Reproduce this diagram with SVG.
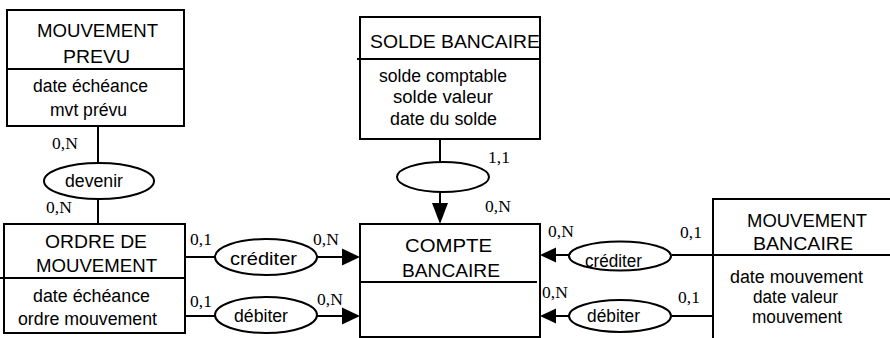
<svg xmlns="http://www.w3.org/2000/svg" width="890" height="338" viewBox="0 0 890 338">
<style>
.box{fill:#fff;stroke:#000;stroke-width:2}
.ln{fill:none;stroke:#000;stroke-width:2}
.el{fill:#fff;stroke:#000;stroke-width:2}
.t{font-family:"Liberation Sans",Arial,sans-serif;font-size:18px;fill:#000;text-anchor:middle}
.c{font-family:"Liberation Serif","Times New Roman",serif;font-size:17.5px;fill:#000}
.ah{fill:#000}
</style>
<rect width="890" height="338" fill="#fff"/>
<g id="connectors">
<line class="ln" x1="98" y1="126" x2="98" y2="164"/>
<line class="ln" x1="98" y1="198" x2="98" y2="224"/>
<line class="ln" x1="440" y1="139" x2="440" y2="162"/>
<line class="ln" x1="440" y1="192" x2="440" y2="206"/>
<polygon class="ah" points="440,224 432,203 448,203"/>
<line class="ln" x1="185" y1="257" x2="215" y2="257"/>
<line class="ln" x1="317" y1="257" x2="345" y2="257"/>
<polygon class="ah" points="360,257 342,248.5 342,265.5"/>
<line class="ln" x1="185" y1="316" x2="215" y2="316"/>
<line class="ln" x1="317" y1="316" x2="345" y2="316"/>
<polygon class="ah" points="360,316 342,307.5 342,324.5"/>
<line class="ln" x1="672" y1="255" x2="713" y2="255"/>
<line class="ln" x1="569" y1="255" x2="552" y2="255"/>
<polygon class="ah" points="540,255 556,247.5 556,262.5"/>
<line class="ln" x1="672" y1="316" x2="713" y2="316"/>
<line class="ln" x1="569" y1="316" x2="552" y2="316"/>
<polygon class="ah" points="540,316 556,308.5 556,323.5"/>
</g>
<g id="mouvement-prevu">
<rect class="box" x="7" y="10" width="177" height="116"/>
<line class="ln" x1="7" y1="69" x2="184" y2="69"/>
<text class="t" x="97.5" y="37" textLength="121" lengthAdjust="spacingAndGlyphs">MOUVEMENT</text>
<text class="t" x="96.5" y="63" textLength="67" lengthAdjust="spacingAndGlyphs">PREVU</text>
<text class="t" x="90.5" y="92" textLength="115" lengthAdjust="spacingAndGlyphs">date échéance</text>
<text class="t" x="88.5" y="116" textLength="77" lengthAdjust="spacingAndGlyphs">mvt prévu</text>
</g>
<g id="solde-bancaire">
<rect class="box" x="360" y="17" width="180" height="122"/>
<line class="ln" x1="357" y1="59" x2="540" y2="59"/>
<text class="t" x="455" y="48" textLength="170" lengthAdjust="spacingAndGlyphs">SOLDE BANCAIRE</text>
<text class="t" x="443" y="82" textLength="128" lengthAdjust="spacingAndGlyphs">solde comptable</text>
<text class="t" x="443" y="103" textLength="100" lengthAdjust="spacingAndGlyphs">solde valeur</text>
<text class="t" x="443.5" y="125" textLength="107" lengthAdjust="spacingAndGlyphs">date du solde</text>
</g>
<g id="devenir">
<ellipse class="el" cx="99" cy="181" rx="55" ry="18"/>
<text class="t" x="94" y="187" textLength="58" lengthAdjust="spacingAndGlyphs">devenir</text>
</g>
<g id="assoc-solde">
<ellipse class="el" cx="443" cy="177" rx="46" ry="15"/>
</g>
<g id="ordre-mouvement">
<rect class="box" x="4" y="224" width="181" height="109"/>
<line class="ln" x1="0" y1="278" x2="185" y2="278"/>
<text class="t" x="96" y="248" textLength="102" lengthAdjust="spacingAndGlyphs">ORDRE DE</text>
<text class="t" x="96.5" y="272" textLength="121" lengthAdjust="spacingAndGlyphs">MOUVEMENT</text>
<text class="t" x="91.5" y="302" textLength="117" lengthAdjust="spacingAndGlyphs">date échéance</text>
<text class="t" x="87.5" y="325" textLength="139" lengthAdjust="spacingAndGlyphs">ordre mouvement</text>
</g>
<g id="crediter-left">
<ellipse class="el" cx="266" cy="257" rx="51" ry="18"/>
<text class="t" x="263.5" y="265" textLength="67" lengthAdjust="spacingAndGlyphs">créditer</text>
</g>
<g id="debiter-left">
<ellipse class="el" cx="266" cy="315" rx="51" ry="18"/>
<text class="t" x="261" y="322" textLength="54" lengthAdjust="spacingAndGlyphs">débiter</text>
</g>
<g id="compte-bancaire">
<rect class="box" x="360" y="224" width="180" height="113"/>
<line class="ln" x1="360" y1="282" x2="537" y2="282"/>
<text class="t" x="448.5" y="252" textLength="87" lengthAdjust="spacingAndGlyphs">COMPTE</text>
<text class="t" x="451" y="277" textLength="98" lengthAdjust="spacingAndGlyphs">BANCAIRE</text>
</g>
<g id="crediter-right">
<ellipse class="el" cx="620" cy="256" rx="51" ry="14.5"/>
<text class="t" x="613.5" y="267" textLength="57" lengthAdjust="spacingAndGlyphs">créditer</text>
</g>
<g id="debiter-right">
<ellipse class="el" cx="620" cy="316" rx="51" ry="16"/>
<text class="t" x="613.5" y="322" textLength="53" lengthAdjust="spacingAndGlyphs">débiter</text>
</g>
<g id="mouvement-bancaire">
<polyline class="ln" points="713,338 713,199 890,199"/>
<line class="ln" x1="713" y1="255" x2="890" y2="255"/>
<text class="t" x="807" y="227" textLength="120" lengthAdjust="spacingAndGlyphs">MOUVEMENT</text>
<text class="t" x="803" y="250" textLength="100" lengthAdjust="spacingAndGlyphs">BANCAIRE</text>
<text class="t" x="796.5" y="283" textLength="133" lengthAdjust="spacingAndGlyphs">date mouvement</text>
<text class="t" x="795.5" y="303" textLength="85" lengthAdjust="spacingAndGlyphs">date valeur</text>
<text class="t" x="797" y="323" textLength="90" lengthAdjust="spacingAndGlyphs">mouvement</text>
</g>
<g id="cardinalities">
<text class="c" x="52" y="149">0,N</text>
<text class="c" x="46" y="213">0,N</text>
<text class="c" x="488" y="163">1,1</text>
<text class="c" x="485" y="212">0,N</text>
<text class="c" x="190" y="245">0,1</text>
<text class="c" x="313" y="245">0,N</text>
<text class="c" x="190" y="307">0,1</text>
<text class="c" x="317" y="305">0,N</text>
<text class="c" x="548" y="237">0,N</text>
<text class="c" x="680" y="238">0,1</text>
<text class="c" x="542" y="298">0,N</text>
<text class="c" x="678" y="303">0,1</text>
</g>
</svg>
